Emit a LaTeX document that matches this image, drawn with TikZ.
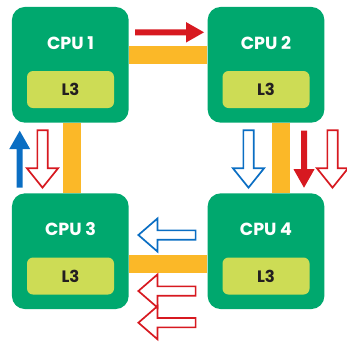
\documentclass[tikz,border=0pt]{standalone}
\usepackage{fontspec}
\setmainfont{Poppins}
\definecolor{cpugreen}{RGB}{0,168,110}
\definecolor{lgreen}{RGB}{205,220,85}
\definecolor{busyellow}{RGB}{251,184,40}
\definecolor{ared}{RGB}{215,25,32}
\definecolor{ablue}{RGB}{10,110,195}
\definecolor{dtext}{RGB}{35,31,32}
\tikzset{
  arrL/.store in=\arrL, arrH/.store in=\arrH, arrS/.store in=\arrS, arrHL/.store in=\arrHL,
  arrowshape/.pic={
    \path[pic actions] (-\arrL/2,-\arrS/2) -- (\arrL/2-\arrHL,-\arrS/2) -- (\arrL/2-\arrHL,-\arrH/2)
      -- (\arrL/2,0) -- (\arrL/2-\arrHL,\arrH/2) -- (\arrL/2-\arrHL,\arrS/2) -- (-\arrL/2,\arrS/2) -- cycle;
  },
  cpubox/.style={fill=cpugreen, rounded corners=13pt, minimum width=116.7pt, minimum height=115.7pt, inner sep=0pt},
  cachebox/.style={fill=lgreen, rounded corners=6pt, minimum width=87pt, minimum height=37pt, inner sep=0pt,
    text=dtext, font=\bfseries\fontsize{16.5}{16.5}\selectfont},
  cpulabel/.style={text=white, font=\bfseries\fontsize{17.5}{17.5}\selectfont, inner sep=0pt},
  bus/.style={draw=busyellow, line width=18pt, line cap=butt},
  filledarrow/.style={fill=#1, arrL=57, arrH=21, arrS=6, arrHL=18.5},
  hollowv/.style={draw=#1, fill=white, line width=1.7pt, miter limit=10, arrL=57.5, arrH=31.3, arrS=10.3, arrHL=19.5},
  hollowh/.style={draw=#1, fill=white, line width=1.7pt, miter limit=10, arrL=57.2, arrH=33, arrS=9.3, arrHL=19},
}
\begin{document}
\begin{tikzpicture}[x=1pt,y=-1pt]
\useasboundingbox (0,0) rectangle (347,341);
% CPU boxes
\node[cpubox] (cpu1) at (70.3,64.8) {};
\node[cpubox] (cpu2) at (266,64.8) {};
\node[cpubox] (cpu3) at (70.3,251.2) {};
\node[cpubox] (cpu4) at (266,251.2) {};
% buses
\draw[bus] ([yshift=10.3pt]cpu1.east) -- ([yshift=10.3pt]cpu2.west);
\draw[bus] ([yshift=-12.5pt]cpu3.east) -- ([yshift=-12.5pt]cpu4.west);
\draw[bus] ([xshift=1.5pt]cpu1.south) -- ([xshift=1.5pt]cpu3.north);
\draw[bus] ([xshift=15.2pt]cpu2.south) -- ([xshift=15.2pt]cpu4.north);
% labels
\node[cpulabel] (t1) at (70.5,43) {CPU 1};
\node[cpulabel] (t2) at (266,43) {CPU 2};
\node[cpulabel] (t3) at (70.5,229.2) {CPU 3};
\node[cpulabel] (t4) at (266,229.2) {CPU 4};
\node[cachebox] (c1) at (70.5,89.5) {L3};
\node[cachebox] (c2) at (266,89.5) {L3};
\node[cachebox] (c3) at (70.5,276) {L3};
\node[cachebox] (c4) at (266,276) {L3};
% arrows
\pic[filledarrow=ared, arrL=69, arrH=20.5, arrHL=18] (a12) at (169.5,32.3) {arrowshape};
\pic[filledarrow=ablue, rotate=90] (a31) at (19.7,159.2) {arrowshape};
\pic[hollowv=ared, rotate=-90] (a13) at (42.5,158.9) {arrowshape};
\pic[hollowv=ablue, rotate=-90] (a24a) at (248.5,158.9) {arrowshape};
\pic[filledarrow=ared, rotate=-90] (a24b) at (304,159.2) {arrowshape};
\pic[hollowv=ared, rotate=-90] (a24c) at (332.5,158.9) {arrowshape};
\pic[hollowh=ablue, rotate=180] (a43a) at (167,235) {arrowshape};
\pic[hollowh=ared, rotate=180] (a43b) at (167,291) {arrowshape};
\pic[hollowh=ared, rotate=180] (a43c) at (167,322.7) {arrowshape};
\end{tikzpicture}
\end{document}
